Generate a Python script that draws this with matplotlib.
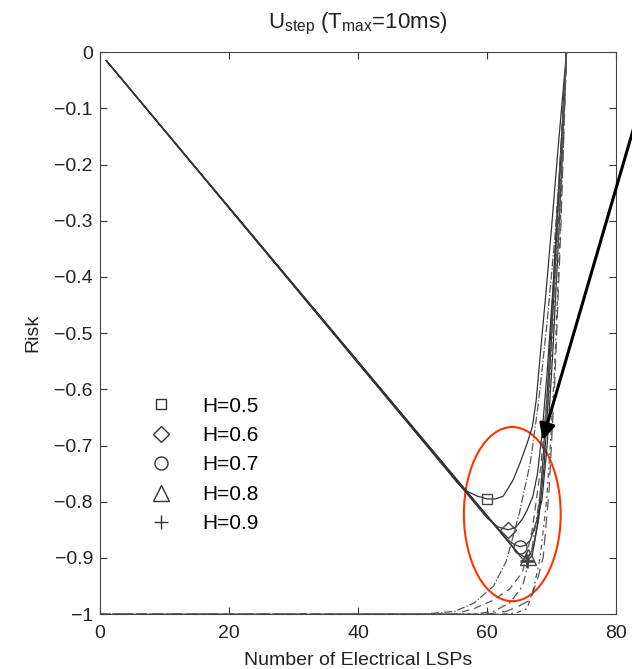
import numpy as np
import matplotlib
matplotlib.use("Agg")
from matplotlib import pyplot as plt
from matplotlib.lines import Line2D
from matplotlib.patches import Ellipse

plt.rcParams["font.family"] = ["Liberation Sans", "DejaVu Sans"]
plt.rcParams["axes.unicode_minus"] = True

# solid curves (risk vs number of electrical LSPs), one per Hurst value
h_labels = ["H=0.5", "H=0.6", "H=0.7", "H=0.8", "H=0.9"]
h_markers = ["s", "D", "o", "^", "+"]
h_msize = [7, 7.7, 9.4, 11, 9.4]

solid_x = [
    [1, 53.8, 55.5, 57, 58.5, 60, 61.3, 62.5, 64, 65.1, 66.2, 67, 67.6, 68.3, 69.1, 70, 71, 72.3],
    [1, 60, 61.7, 63.3, 64.5, 65.5, 66.2, 67.1, 67.8, 68.5, 69.3, 70.2, 71.2, 72.3],
    [1, 63, 64.2, 65.1, 66, 66.7, 67.7, 68.5, 69.3, 70.2, 71.2, 72.3],
    [1, 64.8, 65.7, 66.4, 67.2, 68, 68.8, 69.5, 70.3, 71.2, 72.3],
    [1, 65.5, 66.2, 67, 67.8, 68.5, 69.3, 70.1, 71.1, 72.3],
]
solid_y = [
    [-0.015, -0.744, -0.768, -0.782, -0.79, -0.795, -0.795, -0.79, -0.762, -0.731, -0.696, -0.667, -0.62, -0.53, -0.43, -0.31, -0.17, 0],
    [-0.015, -0.829, -0.845, -0.85, -0.845, -0.83, -0.815, -0.79, -0.75, -0.68, -0.57, -0.42, -0.22, 0],
    [-0.015, -0.866, -0.876, -0.88, -0.877, -0.868, -0.833, -0.797, -0.70, -0.53, -0.30, 0],
    [-0.015, -0.891, -0.898, -0.899, -0.88, -0.83, -0.74, -0.61, -0.44, -0.23, 0],
    [-0.015, -0.902, -0.906, -0.895, -0.84, -0.75, -0.61, -0.45, -0.24, 0],
]

# optimum points marked on each solid curve
opt_x = [60, 63.3, 65.1, 66.4, 66.2]
opt_y = [-0.795, -0.85, -0.88, -0.899, -0.906]

# broken curves rising from -1
broken_x = [
    [0, 50, 55, 58, 61, 63, 65, 66.7, 68, 69.3, 70.5, 71.5, 72.3],
    [0, 55, 58, 61, 63.5, 65.5, 67, 68.3, 69.4, 70.5, 71.5, 72.3],
    [0, 58, 61, 63.5, 65.5, 67, 68.3, 69.4, 70.4, 71.4, 72.3],
    [0, 60, 63, 65, 66.7, 67.9, 68.7, 69.6, 70.5, 71.4, 72.3],
    [0, 62, 64.5, 66.2, 67.3, 68.2, 69.2, 69.8, 70.5, 71.2, 71.8, 72.3],
]
broken_y = [
    [-1, -1, -0.995, -0.98, -0.95, -0.905, -0.82, -0.73, -0.62, -0.48, -0.33, -0.16, 0],
    [-1, -1, -0.99, -0.975, -0.955, -0.925, -0.85, -0.74, -0.60, -0.40, -0.20, 0],
    [-1, -1, -0.995, -0.98, -0.95, -0.88, -0.78, -0.64, -0.46, -0.24, 0],
    [-1, -1, -0.995, -0.985, -0.975, -0.934, -0.898, -0.78, -0.58, -0.32, 0],
    [-1, -1, -0.998, -0.99, -0.95, -0.90, -0.80, -0.70, -0.55, -0.35, -0.17, 0],
]
broken_styles = ["-.", (0, (6, 4)), (0, (7, 3, 1.5, 3)), (0, (9, 5)), (0, (4, 3, 1.5, 3))]

xticks = [0, 20, 40, 60, 80]
yticks = [0, -0.1, -0.2, -0.3, -0.4, -0.5, -0.6, -0.7, -0.8, -0.9, -1]
ytick_labels = ["0", "\u22120.1", "\u22120.2", "\u22120.3", "\u22120.4", "\u22120.5",
                "\u22120.6", "\u22120.7", "\u22120.8", "\u22120.9", "\u22121"]

fig = plt.figure(figsize=(6.32, 6.69), dpi=100)
ax = fig.add_axes([0.158, 0.082, 0.817, 0.840])

for xs, ys in zip(solid_x, solid_y):
    ax.plot(xs, ys, color="#333333", lw=0.9)
for xs, ys, ls in zip(broken_x, broken_y, broken_styles):
    ax.plot(xs, ys, color="#555555", lw=0.9, linestyle=ls)

for x, y, m, s in zip(opt_x, opt_y, h_markers, h_msize):
    ax.plot(x, y, marker=m, ms=s, mfc="none", mec="#444444",
            mew=1.0 if m != "+" else 2, linestyle="none")

handles = [Line2D([], [], marker=m, linestyle="none", mfc="none", mec="#333333",
                  ms=s, mew=1.0) for m, s in zip(h_markers, h_msize)]
ax.legend(handles, h_labels, loc="upper left", bbox_to_anchor=(0.082, 0.402),
          frameon=False, fontsize=15, labelspacing=0.5, handletextpad=1.5,
          handlelength=1.0, borderaxespad=0)

ax.add_patch(Ellipse((63.9, -0.822), 15.0, 0.31, fill=False,
                     edgecolor="#ff3300", lw=1.5))

ax.annotate("", xy=(68.6, -0.69), xytext=(1.004, 0.813),
            textcoords="figure fraction",
            arrowprops=dict(arrowstyle="-|>", lw=2.2, color="black",
                            mutation_scale=24, shrinkA=0, shrinkB=0),
            annotation_clip=False)

ax.set_xlim(0, 80)
ax.set_ylim(-1, 0)
ax.set_xticks(xticks)
ax.set_yticks(yticks)
ax.set_yticklabels(ytick_labels)
ax.tick_params(direction="in", length=5, labelsize=14, top=True, right=True,
               colors="#333333", labelcolor="#222222")
ax.tick_params(axis="y", pad=5)
ax.tick_params(axis="x", pad=8)
for sp in ax.spines.values():
    sp.set_color("#444444")

ax.set_title(r"U$_{\mathregular{step}}$ (T$_{\mathregular{max}}$=10ms)",
             fontsize=16, color="#222222", pad=17)
ax.set_xlabel("Number of Electrical LSPs", fontsize=14, color="#222222", labelpad=7)
ax.set_ylabel("Risk", fontsize=14, color="#222222", labelpad=9)

fig.savefig("out.png", dpi=100)
